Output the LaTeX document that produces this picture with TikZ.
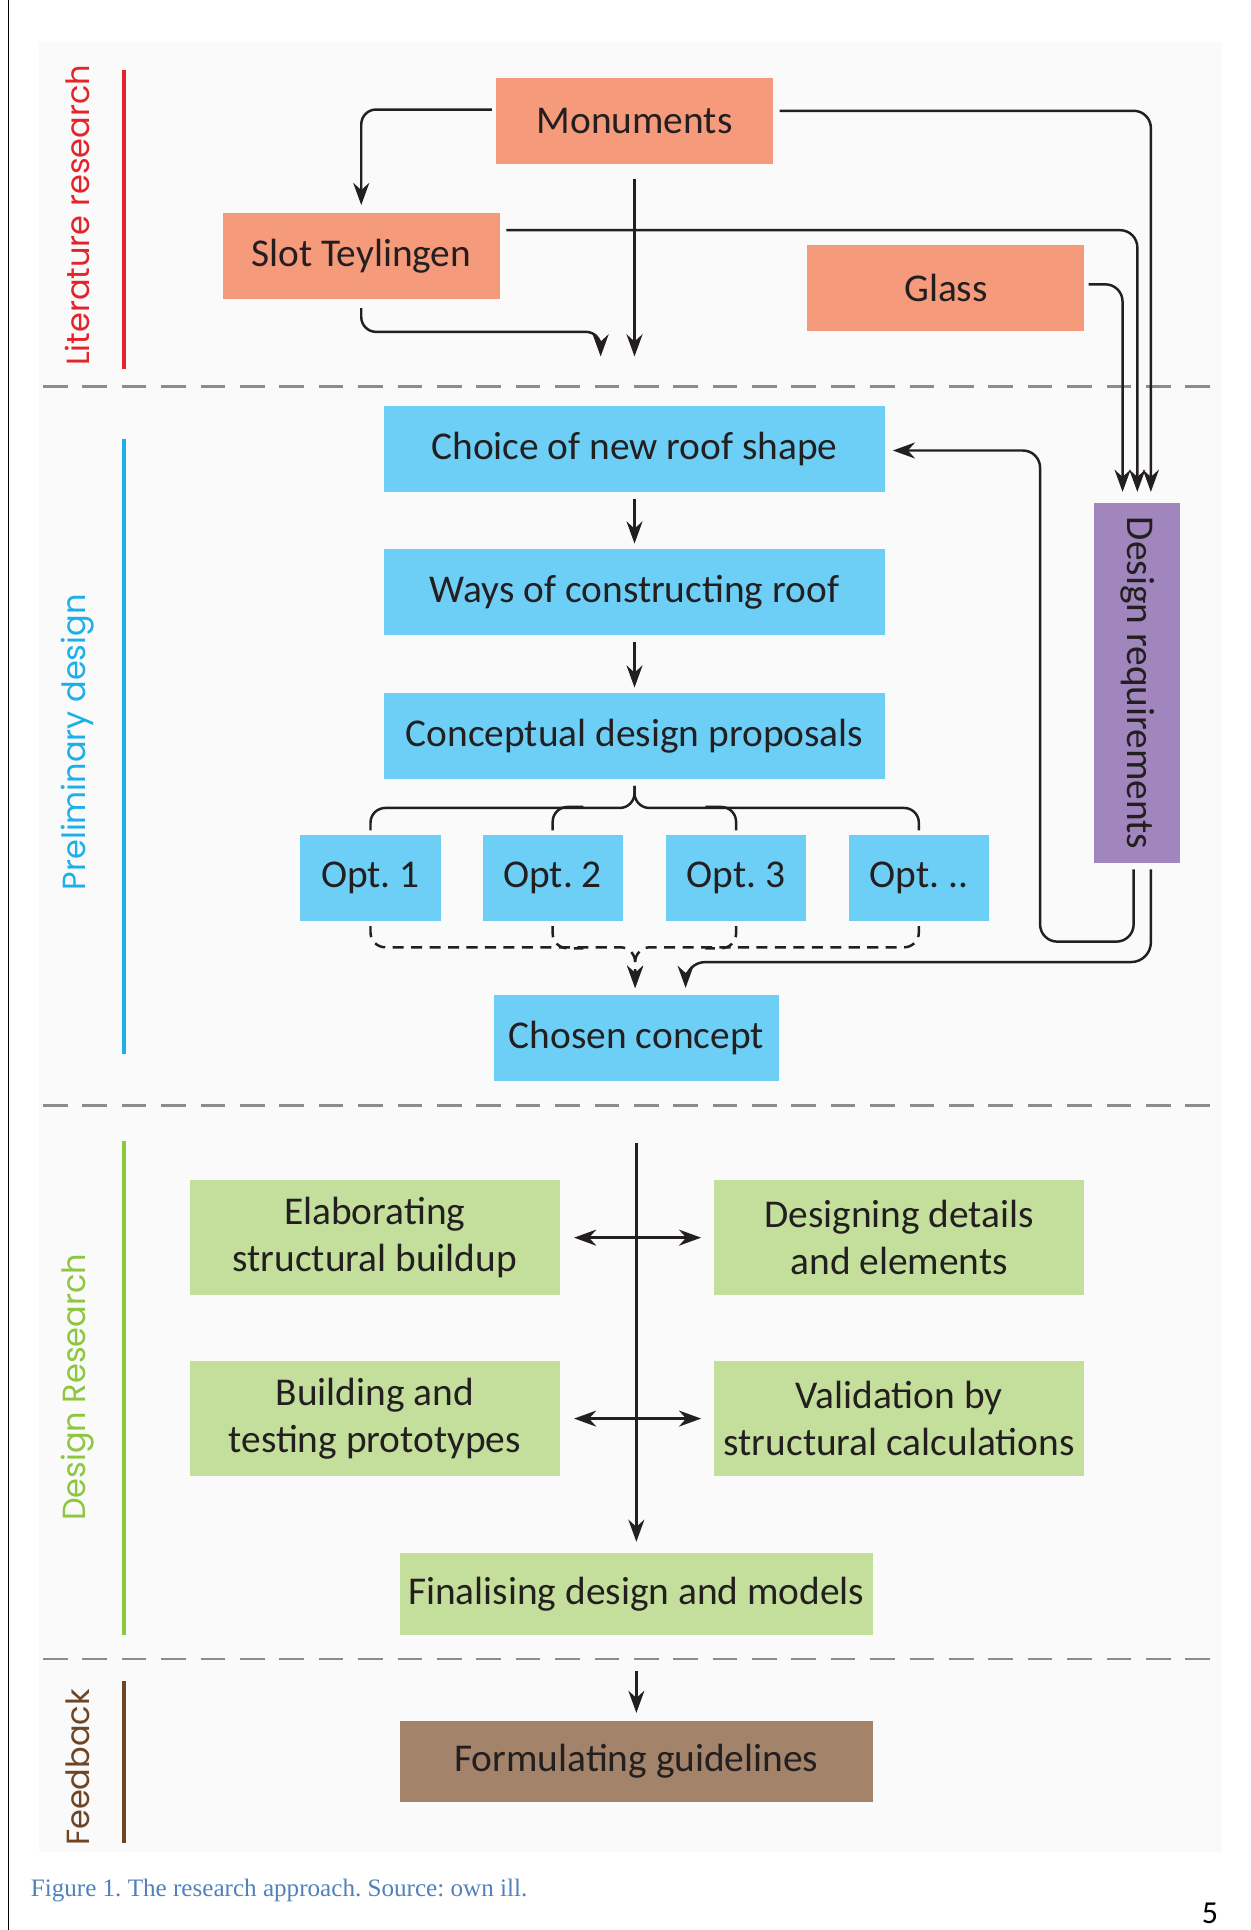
\documentclass[tikz,border=0pt]{standalone}
\usepackage{fontspec}
\setmainfont{Carlito}
\newfontfamily\phasefont{Poppins}
\newfontfamily\capfont{Liberation Serif}
\usepackage{tikz}
\usetikzlibrary{positioning, arrows.meta, calc}

\definecolor{salmon}{HTML}{F59A7B}
\definecolor{skyblue}{HTML}{6DCFF6}
\definecolor{lilac}{HTML}{A186BE}
\definecolor{leaf}{HTML}{C4DF9B}
\definecolor{mud}{HTML}{A3836A}
\definecolor{litred}{HTML}{E3242B}
\definecolor{prelblue}{HTML}{1CAFE8}
\definecolor{resgreen}{HTML}{8DC63F}
\definecolor{fbbrown}{HTML}{6E4626}
\definecolor{sepgrey}{HTML}{8C8C8C}
\definecolor{bggrey}{HTML}{FAFAFA}
\definecolor{capblue}{HTML}{4F81BD}
\definecolor{ink}{HTML}{231F20}

\begin{document}
\frenchspacing
\begin{tikzpicture}[x=0.5pt, y=-0.5pt,
    box/.style={rectangle, inner sep=0pt, text=ink, font=\fontsize{16}{19}\selectfont, align=center},
    lit/.style={box, fill=salmon, minimum width=112.5pt, minimum height=35pt},
    pre/.style={box, fill=skyblue, minimum height=35pt},
    res/.style={box, fill=leaf, minimum width=150.5pt, minimum height=46.5pt},
    phase/.style={rotate=90, font=\phasefont\fontsize{13}{15}\selectfont},
    wire/.style={draw=ink, line width=1pt},
    arr/.style={wire, -{Stealth[length=9pt, width=6.5pt]}},
    dbl/.style={wire, {Stealth[length=9pt, width=6.5pt]}-{Stealth[length=9pt, width=6.5pt]}},
    dashwire/.style={dash pattern=on 4.5pt off 3pt},
    phasesep/.style={sepgrey, line width=1pt, dash pattern=on 10pt off 6pt},
]
    \useasboundingbox (0,0) rectangle (1016,1568);

    % Page frame and backdrop
    \fill[bggrey] (32,34) rectangle (993,1505);
    \draw[line width=0.5pt] (7,0) -- (7,1568);

    % Phase separators
    \foreach \y in {314, 898, 1348} {
        \draw[phasesep] (35,\y) -- (993,\y);
    }

    % Phase bars and labels
    \foreach \c/\a/\b in {litred/57/300, prelblue/357/856, resgreen/927/1328, fbbrown/1366/1497} {
        \draw[\c, line width=1.5pt] (101,\a) -- (101,\b);
    }
    \node[phase, text=litred] (litlab) at (63,175) {Literature research};
    \node[phase, text=prelblue] (prelab) at (63,603) {Preliminary design};
    \node[phase, text=resgreen] (reslab) at (63,1127) {Design Research};
    \node[phase, text=fbbrown] (fblab) at (63,1436) {Feedback};

    % Literature research
    \node[lit] (mon) at (515.5,98) {Monuments};
    \node[lit] (slot) at (293.5,208) {Slot Teylingen};
    \node[lit] (glass) at (768.5,234) {Glass};

    % Preliminary design
    \node[pre, minimum width=203.5pt] (choice) at (515.5,365) {Choice of new roof shape};
    \node[pre, minimum width=203.5pt] (ways) at (515.5,481) {Ways of constructing roof};
    \node[pre, minimum width=203.5pt] (concept) at (515.5,598) {Conceptual design proposals};
    \foreach \i/\x/\t in {1/301/1, 2/449/2, 3/598/3, 4/746.5/..} {
        \node[pre, minimum width=57pt] (opt\i) at (\x,713) {Opt.\ \t};
    }
    \node[pre, minimum width=115.5pt] (chosen) at (517,843) {Chosen concept};
    \node[box, fill=lilac, rotate=-90, minimum width=146pt, minimum height=35pt] (dr) at (924,555) {Design requirements};

    % Design research
    \node[res] (elab) at (304.5,1005.5) {Elaborating\\structural buildup};
    \node[res] (det) at (730.5,1005.5) {Designing details\\and elements};
    \node[res] (build) at (304.5,1152.5) {Building and\\testing prototypes};
    \node[res] (valid) at (730.5,1152.5) {Validation by\\structural calculations};
    \node[box, fill=leaf, minimum width=192pt, minimum height=33pt] (fin) at (517,1295) {Finalising design and models};

    % Feedback
    \node[box, fill=mud, minimum width=192pt, minimum height=33pt] (form) at (517,1431) {Formulating guidelines};

    % Literature arrows
    \draw[arr, rounded corners=6pt] ($(mon.west)+(-3,-9)$) -| ($(slot.north)+(0,-6)$);
    \draw[arr] ($(mon.south)+(0,12)$) -- ($(choice.north)+(0,-40)$);
    \draw[arr, rounded corners=6pt] ($(slot.south)+(0,7)$) |- ($(choice.north)+(-27.5,-60)$) -- ($(choice.north)+(-27.5,-40)$);
    \draw[arr, rounded corners=7pt] ($(mon.east)+(5,-8)$) -| ($(dr.west)+(11,-9)$);
    \draw[arr, rounded corners=7pt] ($(slot.east)+(5,-21)$) -| ($(dr.west)+(0,-9)$);
    \draw[arr, rounded corners=7pt] ($(glass.east)+(3,-3)$) -| ($(dr.west)+(-12,-9)$);

    % Requirements back into the design
    \coordinate (loop) at (845,765);
    \draw[arr, rounded corners=7pt] ($(dr.east)+(-3,5)$) |- (loop) |- ($(choice.east)+(6,1)$);
    \draw[arr, rounded corners=8pt] ($(dr.east)+(11,5)$) |- ($(chosen.north)+(40,-26)$) -- ($(chosen.north)+(40,-5)$);

    % Preliminary chain
    \draw[arr] ($(choice.south)+(0,5)$) -- ($(ways.north)+(0,-4)$);
    \draw[arr] ($(ways.south)+(0,5)$) -- ($(concept.north)+(0,-4)$);

    % Brace to the options
    \coordinate (brtop) at ($(concept.south)+(0,23)$);
    \draw[wire, rounded corners=6pt] ($(opt1.north)+(0,-3)$) |- (brtop) -- ($(concept.south)+(0,5)$);
    \draw[wire, rounded corners=6pt] ($(opt4.north)+(0,-3)$) |- (brtop) -- ($(concept.south)+(0,5)$);
    \draw[wire, rounded corners=6pt] ($(opt2.north)+(0,-3)$) |- ($(opt2.north)+(25,-22)$);
    \draw[wire, rounded corners=6pt] ($(opt3.north)+(0,-3)$) |- ($(opt3.north)+(-25,-22)$);

    % Options merge into the chosen concept
    \coordinate (brbot) at ($(chosen.north)+(-1,-38)$);
    \draw[arr, dashwire, rounded corners=6pt] ($(opt1.south)+(0,4)$) |- (brbot) -- ($(chosen.north)+(-1,-5)$);
    \draw[arr, dashwire, rounded corners=6pt] ($(opt4.south)+(0,4)$) |- (brbot) -- ($(chosen.north)+(-1,-5)$);
    \draw[wire, dashwire, rounded corners=6pt] ($(opt2.south)+(0,4)$) |- ($(opt2.south)+(25,22)$);
    \draw[wire, dashwire, rounded corners=6pt] ($(opt3.south)+(0,4)$) |- ($(opt3.south)+(-25,22)$);

    % Design research arrows
    \draw[arr] ($(chosen.south)+(0,50)$) -- ($(fin.north)+(0,-9)$);
    \draw[dbl] ($(elab.east)+(11,0)$) -- ($(det.west)+(-10,0)$);
    \draw[dbl] ($(build.east)+(11,0)$) -- ($(valid.west)+(-10,0)$);
    \draw[arr] ($(fin.south)+(0,29)$) -- ($(form.north)+(0,-6)$);

    % Caption
    \node[anchor=base west, text=capblue, font=\capfont\fontsize{10.2}{12}\selectfont] (caption) at (18,1541) {Figure 1. The research approach. Source: own ill.};
    \node[anchor=base, font=\fontsize{13}{15}\selectfont] (pagenum) at (983,1563) {5};
\end{tikzpicture}
\end{document}
